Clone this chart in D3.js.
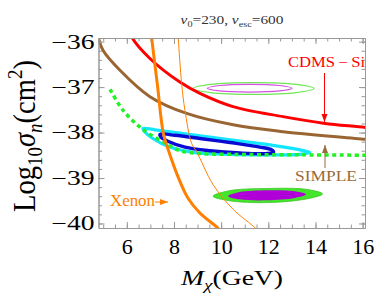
<!DOCTYPE html>
<html><head><meta charset="utf-8">
<script src="https://cdn.jsdelivr.net/npm/d3@7/dist/d3.min.js"></script>
<style>
html,body{margin:0;padding:0;background:#fff;}
svg{display:block;font-family:"Liberation Serif","DejaVu Serif",serif;}
</style></head>
<body><svg id="c" width="374" height="305"></svg>
<script>
// ---- data (M_chi in GeV, log10 sigma_n in cm^2) ----
const xTicks = [6, 8, 10, 12, 14, 16];
const yTicks = [-40, -39, -38, -37, -36];

const cdmsSi = [[6.0,-35.55],[6.21,-35.9],[6.98,-36.37],[8.25,-36.89],[9.1,-37.14],[10.5,-37.43],[12.62,-37.65],[14.4,-37.8],[16.12,-37.89],[16.4,-37.92]];
const simple = [[4.8,-35.92],[4.99,-36.19],[5.71,-36.63],[6.98,-37.21],[8.54,-37.58],[10.51,-37.83],[12.63,-37.98],[16.12,-38.15],[16.4,-38.17]];
const greenDotted = [[5.29,-37.05],[5.84,-37.51],[6.70,-37.94],[7.69,-38.25],[8.25,-38.4],[9.1,-38.46],[10.5,-38.48],[13.3,-38.49],[16.4,-38.5]];
const xenonThick = [[7.0,-35.6],[7.054,-35.91],[7.30,-36.96],[7.546,-38.01],[7.758,-38.38],[8.169,-38.97],[8.59,-39.44],[9.10,-39.77],[9.876,-40.11],[10.1,-40.25]];
const xenonThin = [[8.15,-35.6],[8.181,-35.91],[8.325,-36.92],[8.465,-37.51],[8.749,-38.24],[8.961,-38.42],[9.664,-39.15],[10.51,-39.69],[11.47,-40.11],[11.7,-40.25]];
const cyanContour = [[6.686,-37.91],[7.194,-37.94],[8.253,-38.01],[9.525,-38.10],[10.80,-38.19],[12.07,-38.27],[13.13,-38.36],[13.76,-38.44],[13.34,-38.48],[12.07,-38.49],[10.37,-38.48],[8.89,-38.44],[7.83,-38.32],[7.07,-38.12],[6.77,-37.99]];
const blueContour = [[7.41,-38.04],[8.04,-38.06],[9.10,-38.13],[10.37,-38.22],[11.64,-38.32],[12.15,-38.38],[12.22,-38.43],[11.98,-38.46],[10.80,-38.45],[9.525,-38.40],[8.47,-38.32],[7.74,-38.19],[7.45,-38.10]];
const greenOutline = [[13.94,-37.03],[13.19,-36.94],[11.37,-36.90],[9.55,-36.94],[8.80,-37.03],[9.55,-37.12],[11.37,-37.16],[13.19,-37.12]];
const purpleOutline = [[13.01,-37.025],[12.48,-36.965],[11.21,-36.94],[9.94,-36.965],[9.41,-37.025],[9.94,-37.085],[11.21,-37.11],[12.48,-37.085]];
const greenFilled = [[14.30,-39.35],[13.62,-39.25],[11.98,-39.23],[10.34,-39.28],[9.66,-39.40],[10.34,-39.50],[11.98,-39.54],[13.62,-39.46]];
const purpleFilled = [[13.60,-39.36],[13.12,-39.29],[11.95,-39.27],[10.78,-39.31],[10.30,-39.40],[10.78,-39.47],[11.95,-39.49],[13.12,-39.44]];

// ---- layout ----
const L = 98.5, R = 365, T = 38, B = 228;
const SX = 1.38; // horizontal glyph stretch seen in the reference
const svg = d3.select("#c");
const x = d3.scaleLinear().domain([4.8, 16.1]).range([L, R]);
const y = d3.scaleLinear().domain([-40.1, -35.92]).range([B, T]);

svg.append("rect").attr("width",374).attr("height",305).attr("fill","#fff");
svg.append("defs").append("clipPath").attr("id","clip")
  .append("rect").attr("x",L).attr("y",T).attr("width",R-L).attr("height",B-T);

const plot = svg.append("g").attr("clip-path","url(#clip)");
const line = d3.line().x(d=>x(d[0])).y(d=>y(d[1])).curve(d3.curveCatmullRom.alpha(0.5));
const closed = d3.line().x(d=>x(d[0])).y(d=>y(d[1])).curve(d3.curveCatmullRomClosed.alpha(0.5));

plot.append("path").attr("d",closed(greenFilled)).attr("fill","#44e62a").attr("stroke","#3cc828").attr("stroke-width",0.8);
plot.append("path").attr("d",closed(purpleFilled)).attr("fill","#b000d8").attr("stroke","none");
plot.append("path").attr("d",closed(greenOutline)).attr("fill","none").attr("stroke","#6ee850").attr("stroke-width",1.2);
plot.append("path").attr("d",closed(purpleOutline)).attr("fill","none").attr("stroke","#d84ee8").attr("stroke-width",1.2);
plot.append("path").attr("d",closed(cyanContour)).attr("fill","none").attr("stroke","#14e6ff").attr("stroke-width",3.2);
plot.append("path").attr("d",closed(blueContour)).attr("fill","none").attr("stroke","#0a0ad2").attr("stroke-width",3.4);
plot.append("path").attr("d",line(greenDotted)).attr("fill","none").attr("stroke","#22f022").attr("stroke-width",3.5).attr("stroke-dasharray","4,3.5");
plot.append("path").attr("d",line(simple)).attr("fill","none").attr("stroke","#996633").attr("stroke-width",3);
plot.append("path").attr("d",line(cdmsSi)).attr("fill","none").attr("stroke","#f00").attr("stroke-width",3);
plot.append("path").attr("d",line(xenonThin)).attr("fill","none").attr("stroke","#ff8000").attr("stroke-width",1);
plot.append("path").attr("d",line(xenonThick)).attr("fill","none").attr("stroke","#ff8000").attr("stroke-width",3);

// ---- frame & axes ----
const frameCol = "#999";
function styleAxis(g){ g.selectAll("path,line").attr("stroke",frameCol); g.select(".domain").attr("stroke-width",1); }
const minorX = d3.range(5, 16.01, 0.5);
const minorY = d3.range(-40, -35.99, 0.2).map(v=>+v.toFixed(2));
const fmt = d3.format("d");

const gB = svg.append("g").attr("transform",`translate(0,${B})`)
  .call(d3.axisBottom(x).tickValues(xTicks).tickFormat(fmt).tickSizeInner(-6).tickSizeOuter(0).tickPadding(11.5));
svg.append("g").attr("transform",`translate(0,${B})`)
  .call(d3.axisBottom(x).tickValues(minorX).tickSizeInner(-3.5).tickSizeOuter(0).tickFormat("")).call(styleAxis);
const gL = svg.append("g").attr("transform",`translate(${L},0)`)
  .call(d3.axisLeft(y).tickValues(yTicks).tickFormat(fmt).tickSizeInner(-6).tickSizeOuter(0).tickPadding(4));
svg.append("g").attr("transform",`translate(${L},0)`)
  .call(d3.axisLeft(y).tickValues(minorY).tickSizeInner(-3.5).tickSizeOuter(0).tickFormat("")).call(styleAxis);
svg.append("g").attr("transform",`translate(0,${T})`)
  .call(d3.axisTop(x).tickValues(xTicks).tickSizeInner(-6).tickSizeOuter(0).tickFormat("")).call(styleAxis);
svg.append("g").attr("transform",`translate(0,${T})`)
  .call(d3.axisTop(x).tickValues(minorX).tickSizeInner(-3.5).tickSizeOuter(0).tickFormat("")).call(styleAxis);
svg.append("g").attr("transform",`translate(${R},0)`)
  .call(d3.axisRight(y).tickValues(yTicks).tickSizeInner(-6).tickSizeOuter(0).tickFormat("")).call(styleAxis);
svg.append("g").attr("transform",`translate(${R},0)`)
  .call(d3.axisRight(y).tickValues(minorY).tickSizeInner(-3.5).tickSizeOuter(0).tickFormat("")).call(styleAxis);
[gB,gL].forEach(g=>{
  styleAxis(g);
  g.attr("font-family","Liberation Serif, serif").attr("font-size",20);
  g.selectAll("text").attr("fill","#000").style("font-family","Liberation Serif, serif");
});
gB.selectAll("text").attr("transform",`scale(1.1,1)`);
gL.selectAll("text").attr("x",-4/SX).attr("transform",`scale(${SX},1)`);

// ---- titles ----
const t = svg.append("text").attr("transform",`translate(232,24) scale(1.28,1)`).attr("text-anchor","middle").style("font-size","12px").attr("fill","#333");
t.append("tspan").style("font-style","italic").text("v");
t.append("tspan").attr("dy",3).style("font-size","8px").text("0");
t.append("tspan").attr("dy",-3).text("=230, ");
t.append("tspan").style("font-style","italic").text("v");
t.append("tspan").attr("dy",3).style("font-size","8px").text("esc");
t.append("tspan").attr("dy",-3).text("=600");

const xl = svg.append("text").attr("transform",`translate(232,285) scale(${SX},1)`).attr("text-anchor","middle").style("font-size","20px").attr("fill","#000");
xl.append("tspan").style("font-style","italic").text("M");
xl.append("tspan").attr("dy",5).style("font-size","14px").style("font-style","italic").text("χ");
xl.append("tspan").attr("dy",-5).text("(GeV)");

const yl = svg.append("text").attr("transform",`translate(35,136) rotate(-90) scale(1,1.3)`).attr("text-anchor","middle")
  .style("font-size","24px").attr("fill","#000").attr("textLength",152).attr("lengthAdjust","spacingAndGlyphs");
yl.append("tspan").text("Log");
yl.append("tspan").attr("dy",5).style("font-size","16px").text("10");
yl.append("tspan").attr("dy",-5).style("font-style","italic").text("σ");
yl.append("tspan").attr("dy",5).style("font-size","16px").style("font-style","italic").text("n");
yl.append("tspan").attr("dy",-5).text("(cm");
yl.append("tspan").attr("dy",-10).style("font-size","16px").text("2");
yl.append("tspan").attr("dy",10).text(")");

// ---- annotations ----
svg.append("text").attr("x",288).attr("y",67).style("font-size","14px").attr("fill","#f00")
  .attr("textLength",77).attr("lengthAdjust","spacingAndGlyphs").text("CDMS\u2009\u2212\u2009Si");
svg.append("text").attr("x",295).attr("y",181).style("font-size","15px").attr("fill","#9a6a3a")
  .attr("textLength",62).attr("lengthAdjust","spacingAndGlyphs").text("SIMPLE");
svg.append("text").attr("x",110).attr("y",206).style("font-size","16px").attr("fill","#ff8000")
  .attr("textLength",45).attr("lengthAdjust","spacingAndGlyphs").text("Xenon");

function arrow(x1,y1,x2,y2,col){
  svg.append("line").attr("x1",x1).attr("y1",y1).attr("x2",x2).attr("y2",y2).attr("stroke",col).attr("stroke-width",1);
  const a = Math.atan2(y2-y1,x2-x1), len=8, w=3;
  const bx = x2-len*Math.cos(a), by = y2-len*Math.sin(a);
  const px = -Math.sin(a)*w, py = Math.cos(a)*w;
  svg.append("path").attr("d",`M${x2},${y2}L${bx+px},${by+py}L${bx-px},${by-py}Z`).attr("fill",col);
}
arrow(324.5,73,324.5,122,"#f00");
arrow(325,168,325,145,"#9a6a3a");
arrow(155,202,168,202,"#ff8000");
</script></body></html>
